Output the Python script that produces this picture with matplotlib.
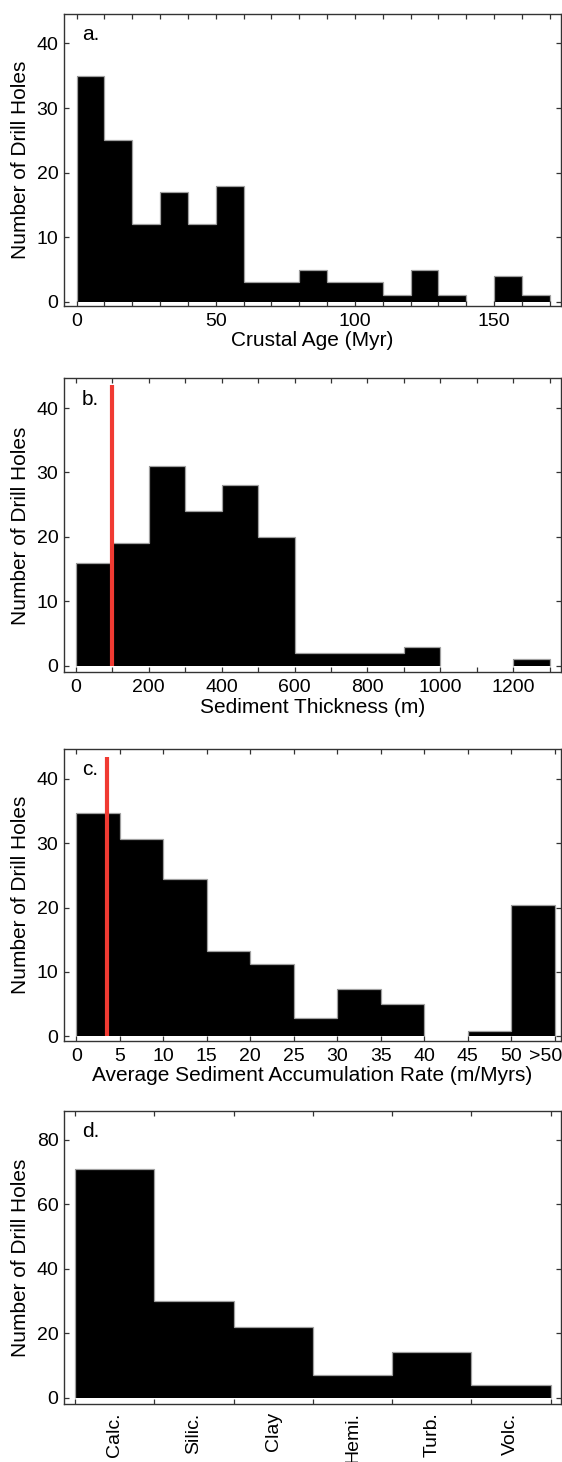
import numpy as np
import matplotlib
matplotlib.use('Agg')
from matplotlib import pyplot as plt
import matplotlib.ticker as mtick
from matplotlib.transforms import ScaledTranslation

plt.rcParams['font.family'] = ['Liberation Sans', 'DejaVu Sans']

# a. crustal age histogram (10 Myr bins)
age_edges = np.arange(0, 180, 10)
age_counts = [35, 25, 12, 17, 12, 18, 3, 3, 5, 3, 3, 1, 5, 1, 0, 4, 1]

# b. sediment thickness histogram (100 m bins)
thick_edges = np.arange(0, 1400, 100)
thick_counts = [16, 19, 31, 24, 28, 20, 2, 2, 2, 3, 0, 0, 1]
thick_cut = 100

# c. accumulation rate histogram (5 m/Myr bins, last one is >50)
rate_edges = np.arange(0, 60, 5)
rate_counts = [34.7, 30.7, 24.5, 13.3, 11.2, 2.8, 7.3, 5.1, 0, 0.9, 20.4]
rate_ticklabels = ['0', '5', '10', '15', '20', '25', '30', '35', '40', '45', '50', '>50']
rate_cut = 3.5

# d. sediment type
sed_types = ['Calc.', 'Silic.', 'Clay', 'Hemi.', 'Turb.', 'Volc.']
sed_counts = [71, 30, 22, 7, 14, 4]

FS_TICK = 14
FS_LABEL = 15
RED = '#F03A32'
EDGE = '#a0a0a0'


def style_axes(ax):
    for s in ax.spines.values():
        s.set_color('#333333')
        s.set_linewidth(1.0)
    ax.tick_params(which='both', direction='in', top=True, right=True,
                   length=3.6, width=0.9, color='#333333', labelsize=FS_TICK)
    ax.tick_params(axis='x', which='both', pad=5)
    ax.tick_params(axis='y', which='both', pad=4)
    ax.set_ylabel('Number of Drill Holes', fontsize=FS_LABEL, labelpad=5)


def hist_bars(ax, edges, counts):
    # black filled histogram with a thin grey outline, empty bins left blank
    edges = np.asarray(edges, dtype=float)
    counts = np.asarray(counts, dtype=float)
    nz = counts > 0
    ax.bar(edges[:-1][nz], counts[nz], width=np.diff(edges)[nz], align='edge',
           color='black', linewidth=0)
    i = 0
    while i < len(counts):
        if counts[i] <= 0:
            i += 1
            continue
        j = i
        while j < len(counts) and counts[j] > 0:
            j += 1
        ax.stairs(counts[i:j], edges[i:j + 1], baseline=0, color=EDGE, linewidth=0.9)
        i = j


def panel_tag(ax, tag):
    ax.text(0.036, 0.91, tag, transform=ax.transAxes, fontsize=FS_LABEL,
            ha='left', va='baseline')


fig = plt.figure(figsize=(5.62, 14.62), dpi=100)
left, width = 0.1139, 0.884
ax1 = fig.add_axes([left, 0.7909, width, 0.1997])
ax2 = fig.add_axes([left, 0.5401, width, 0.2011])
ax3 = fig.add_axes([left, 0.2880, width, 0.1997])
ax4 = fig.add_axes([left, 0.0397, width, 0.2004])

# a.
hist_bars(ax1, age_edges, age_counts)
ax1.set_xlim(-4.5, 174)
ax1.set_ylim(-0.6, 44.6)
ax1.xaxis.set_major_locator(mtick.MultipleLocator(50))
ax1.xaxis.set_minor_locator(mtick.MultipleLocator(10))
ax1.yaxis.set_major_locator(mtick.MultipleLocator(10))
style_axes(ax1)
ax1.set_xlabel('Crustal Age (Myr)', fontsize=FS_LABEL, labelpad=1)
panel_tag(ax1, 'a.')

# b.
hist_bars(ax2, thick_edges, thick_counts)
ax2.plot([thick_cut, thick_cut], [0, 43.5], color=RED, linewidth=3, solid_capstyle='butt')
ax2.set_xlim(-32, 1330)
ax2.set_ylim(-1.0, 44.6)
ax2.xaxis.set_major_locator(mtick.MultipleLocator(200))
ax2.xaxis.set_minor_locator(mtick.MultipleLocator(100))
ax2.yaxis.set_major_locator(mtick.MultipleLocator(10))
style_axes(ax2)
ax2.set_xlabel('Sediment Thickness (m)', fontsize=FS_LABEL, labelpad=1)
panel_tag(ax2, 'b.')

# c.
hist_bars(ax3, rate_edges, rate_counts)
ax3.plot([rate_cut, rate_cut], [0, 43.4], color=RED, linewidth=3, solid_capstyle='butt')
ax3.set_xlim(-1.4, 55.7)
ax3.set_ylim(-0.7, 44.6)
ax3.set_xticks(rate_edges)
ax3.set_xticklabels(rate_ticklabels)
ax3.yaxis.set_major_locator(mtick.MultipleLocator(10))
style_axes(ax3)
last = ax3.get_xticklabels()[-1]
last.set_transform(last.get_transform() + ScaledTranslation(-9 / 100, 0, fig.dpi_scale_trans))
ax3.set_xlabel('Average Sediment Accumulation Rate (m/Myrs)', fontsize=FS_LABEL, labelpad=1)
panel_tag(ax3, 'c.')

# d.
pos = np.arange(len(sed_types))
hist_bars(ax4, np.arange(len(sed_types) + 1), sed_counts)
ax4.set_xlim(-0.14, 6.13)
ax4.set_ylim(-2, 89)
ax4.set_xticks(np.arange(len(sed_types) + 1))
ax4.set_xticklabels([])
ax4.set_xticks(pos + 0.5, minor=True)
ax4.set_xticklabels(sed_types, minor=True, rotation=90)
ax4.yaxis.set_major_locator(mtick.MultipleLocator(20))
style_axes(ax4)
ax4.tick_params(axis='x', which='minor', length=0, pad=6)
panel_tag(ax4, 'd.')

fig.savefig('out.png', dpi=100)
